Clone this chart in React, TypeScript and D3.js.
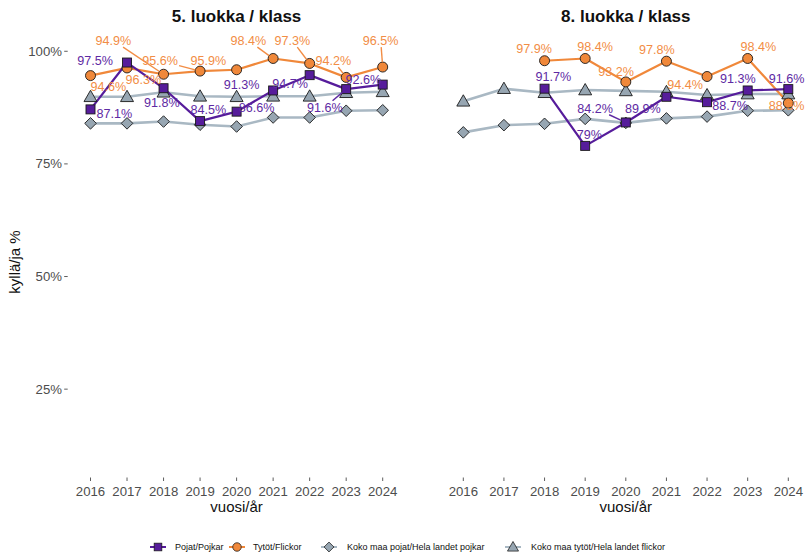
import React from "react";
import * as d3 from "d3";

const years = [2016, 2017, 2018, 2019, 2020, 2021, 2022, 2023, 2024];
const years8 = [2018, 2019, 2020, 2021, 2022, 2023, 2024];

// 5. luokka
const g5Boys = [87.1, 97.5, 91.8, 84.5, 86.6, 91.3, 94.7, 91.6, 92.6];
const g5Girls = [94.6, 96.3, 94.9, 95.6, 95.9, 98.4, 97.3, 94.2, 96.5];
const g5NatBoys = [84.0, 84.0, 84.4, 83.7, 83.3, 85.3, 85.3, 86.8, 86.9];
const g5NatGirls = [89.9, 89.9, 90.9, 90.0, 89.9, 90.0, 90.0, 90.8, 91.0];

// 8. luokka
const g8Boys = [91.7, 79.0, 84.2, 89.9, 88.7, 91.3, 91.6];
const g8Girls = [97.9, 98.4, 93.2, 97.8, 94.4, 98.4, 88.5];
const g8NatBoys = [82.0, 83.6, 83.9, 85.0, 84.1, 85.1, 85.5, 86.8, 86.9];
const g8NatGirls = [88.9, 91.7, 90.8, 91.4, 91.2, 91.0, 90.3, 90.5, 90.5];

const yTicks = [25, 50, 75, 100];
const panelTitles = ["5. luokka / klass", "8. luokka / klass"];
const legendLabels = [
  "Pojat/Pojkar",
  "Tytöt/Flickor",
  "Koko maa pojat/Hela landet pojkar",
  "Koko maa tytöt/Hela landet flickor",
];

// label placement (repel-like nudges in px): dx, dy, draw segment (1/0)
const nudge5Girls = [
  [17.8, 11.1, 0], [16.3, 12, 0], [-50.2, -33.6, 1], [-40, -10.4, 1],
  [-28.3, -9.1, 0], [-24.8, -17.8, 1], [-17.3, -22.8, 1], [-12.9, -16.7, 1], [-2, -26.4, 1],
];
const nudge5Boys = [
  [23.8, 4.6, 0], [-32, -1.9, 0], [-1.8, 14.1, 0], [8.3, -11.8, 0],
  [20.1, -4.4, 0], [-31.4, -6.2, 0], [-19.6, 8.8, 0], [-21.2, 18.2, 1], [-19.4, -5.3, 0],
];
const nudge8Girls = [
  [-10.5, -12.5, 0], [9.9, -11.8, 0], [-9.7, -10.2, 0], [-9.6, -11.2, 0],
  [-21.9, 7.8, 0], [10.8, -11.8, 0], [-1.6, 2.9, 0],
];
const nudge8Boys = [
  [8.8, -12, 0], [4.2, -10.9, 1], [-30.7, -14.2, 1], [-23.6, 11.5, 0],
  [23.1, 3.8, 0], [-9.8, -12.2, 0], [-1.6, -10.8, 0],
];

const PURPLE = "#561C9B";
const PURPLE_TXT = "#5E2AA3";
const ORANGE = "#F0883A";
const ORANGE_TXT = "#F28D45";
const GRAYLINE = "#A9B8C3";
const GRAYFILL = "#97A6B2";
const FONT = "'Liberation Sans', Arial, Helvetica, sans-serif";

const y = d3.scaleLinear().domain([5.5, 104.5]).range([477, 31]);
const x5 = d3.scaleLinear().domain([2016, 2024]).range([90.5, 382.7]);
const x8 = d3.scaleLinear().domain([2016, 2024]).range([463.3, 788.3]);

function Marker({ cx, cy, shape, fill }: { cx: number; cy: number; shape: string; fill: string }) {
  const st = { fill, stroke: "#1a1a1a", strokeWidth: 0.9 };
  if (shape === "square") return <rect x={cx - 4.5} y={cy - 4.5} width={9} height={9} {...st} />;
  if (shape === "circle") return <circle cx={cx} cy={cy} r={5} {...st} />;
  if (shape === "diamond")
    return <path d={`M${cx},${cy - 5.8}L${cx + 5.8},${cy}L${cx},${cy + 5.8}L${cx - 5.8},${cy}Z`} {...st} />;
  return <path d={`M${cx},${cy - 6.5}L${cx + 6.5},${cy + 4.8}L${cx - 6.5},${cy + 4.8}Z`} {...st} />;
}

function Series({ xs, vals, x, color, width }: any) {
  const line = d3
    .line<number>()
    .x((_, i) => x(xs[i]))
    .y((d) => y(d));
  return <path d={line(vals) || ""} fill="none" stroke={color} strokeWidth={width} strokeLinejoin="round" />;
}

function Points({ xs, vals, x, shape, fill }: any) {
  return (
    <g>
      {vals.map((v: number, i: number) => (
        <Marker key={i} cx={x(xs[i])} cy={y(v)} shape={shape} fill={fill} />
      ))}
    </g>
  );
}

function segmentPath(lx: number, ly: number, px: number, py: number, txt: string) {
  const hw = txt.length * 3.6 + 1;
  const hh = 6.5;
  const vx = px - lx;
  const vy = py - ly;
  const tx = Math.abs(vx) > 1e-6 ? hw / Math.abs(vx) : 1e9;
  const ty = Math.abs(vy) > 1e-6 ? hh / Math.abs(vy) : 1e9;
  const t = Math.min(tx, ty, 1);
  const sx = lx + vx * t;
  const sy = ly + vy * t;
  const len = Math.hypot(px - sx, py - sy);
  if (len <= 6) return null;
  const ex = px - ((px - sx) / len) * 5;
  const ey = py - ((py - sy) / len) * 5;
  return `M${sx},${sy}L${ex},${ey}`;
}

function Labels({ xs, vals, x, nudges, color }: any) {
  const items = vals.map((v: number, i: number) => {
    const px = x(xs[i]);
    const py = y(v);
    const nd = nudges[i];
    const lx = px + nd[0];
    const ly = py + nd[1];
    const txt = `${v % 1 === 0 ? v.toFixed(0) : v.toFixed(1)}%`;
    const d = nd[2] ? segmentPath(lx, ly, px, py, txt) : null;
    return { lx, ly, txt, d };
  });
  return (
    <g>
      {items.map((it: any, i: number) =>
        it.d ? <path key={"s" + i} d={it.d} stroke={color} strokeWidth={1.4} fill="none" /> : null
      )}
      {items.map((it: any, i: number) => (
        <text key={"t" + i} x={it.lx} y={it.ly + 4.4} textAnchor="middle" fontSize={12.6} fill={color} fontFamily={FONT}>
          {it.txt}
        </text>
      ))}
    </g>
  );
}

function Panel({ x, nb, ng, boys, girls, bYears, nBoys, nGirls, title, cx }: any) {
  return (
    <g>
      <text x={cx} y={22} textAnchor="middle" fontSize={17} fontWeight="bold" fontFamily={FONT} fill="#111">
        {title}
      </text>
      <Series xs={years} vals={nBoys} x={x} color={GRAYLINE} width={2.6} />
      <Series xs={years} vals={nGirls} x={x} color={GRAYLINE} width={2.6} />
      <Series xs={bYears} vals={girls} x={x} color={ORANGE} width={2.2} />
      <Series xs={bYears} vals={boys} x={x} color={PURPLE} width={2.2} />
      <Points xs={years} vals={nBoys} x={x} shape="diamond" fill={GRAYFILL} />
      <Points xs={years} vals={nGirls} x={x} shape="triangle" fill={GRAYFILL} />
      <Points xs={bYears} vals={girls} x={x} shape="circle" fill={ORANGE} />
      <Points xs={bYears} vals={boys} x={x} shape="square" fill={PURPLE} />
      <Labels xs={bYears} vals={girls} x={x} nudges={ng} color={ORANGE_TXT} />
      <Labels xs={bYears} vals={boys} x={x} nudges={nb} color={PURPLE_TXT} />
      {years.map((yr) => (
        <g key={yr}>
          <line x1={x(yr)} x2={x(yr)} y1={477.5} y2={481} stroke="#333" strokeWidth={0.8} />
          <text x={x(yr)} y={496} textAnchor="middle" fontSize={13.2} fill="#4d4d4d" fontFamily={FONT}>
            {yr}
          </text>
        </g>
      ))}
      <text x={cx} y={512} textAnchor="middle" fontSize={15} fill="#111" fontFamily={FONT}>
        vuosi/år
      </text>
    </g>
  );
}

export default function App() {
  const legendKeys = [
    { cx: 158, tx: 175, color: PURPLE, shape: "square", fill: PURPLE },
    { cx: 237, tx: 253, color: ORANGE, shape: "circle", fill: ORANGE },
    { cx: 329, tx: 347, color: GRAYLINE, shape: "diamond", fill: GRAYFILL },
    { cx: 513, tx: 531, color: GRAYLINE, shape: "triangle", fill: GRAYFILL },
  ];
  return (
    <svg
      width={809}
      height={552}
      style={{ position: "absolute", left: 0, top: 0, background: "#fff" }}
      fontFamily={FONT}
    >
      <rect width={809} height={552} fill="#fff" />
      {yTicks.map((t) => (
        <g key={t}>
          <text x={62} y={y(t) + 4.6} textAnchor="end" fontSize={13.2} fill="#4d4d4d">
            {t}%
          </text>
          <line x1={64.2} x2={67.7} y1={y(t)} y2={y(t)} stroke="#333" strokeWidth={0.8} />
        </g>
      ))}
      <text transform={`translate(20,262) rotate(-90)`} textAnchor="middle" fontSize={15} fill="#111">
        kyllä/ja %
      </text>
      <Panel
        x={x5}
        nb={nudge5Boys}
        ng={nudge5Girls}
        boys={g5Boys}
        girls={g5Girls}
        bYears={years}
        nBoys={g5NatBoys}
        nGirls={g5NatGirls}
        title={panelTitles[0]}
        cx={236.6}
      />
      <Panel
        x={x8}
        nb={nudge8Boys}
        ng={nudge8Girls}
        boys={g8Boys}
        girls={g8Girls}
        bYears={years8}
        nBoys={g8NatBoys}
        nGirls={g8NatGirls}
        title={panelTitles[1]}
        cx={625.8}
      />
      {legendKeys.map((k, i) => (
        <g key={i}>
          <line x1={k.cx - 8} x2={k.cx + 8} y1={547} y2={547} stroke={k.color} strokeWidth={2} />
          <g transform={`translate(${k.cx},547) scale(0.85) translate(${-k.cx},-547)`}>
            <Marker cx={k.cx} cy={547} shape={k.shape} fill={k.fill} />
          </g>
          <text x={k.tx} y={550.2} fontSize={9} fill="#111">
            {legendLabels[i]}
          </text>
        </g>
      ))}
    </svg>
  );
}
